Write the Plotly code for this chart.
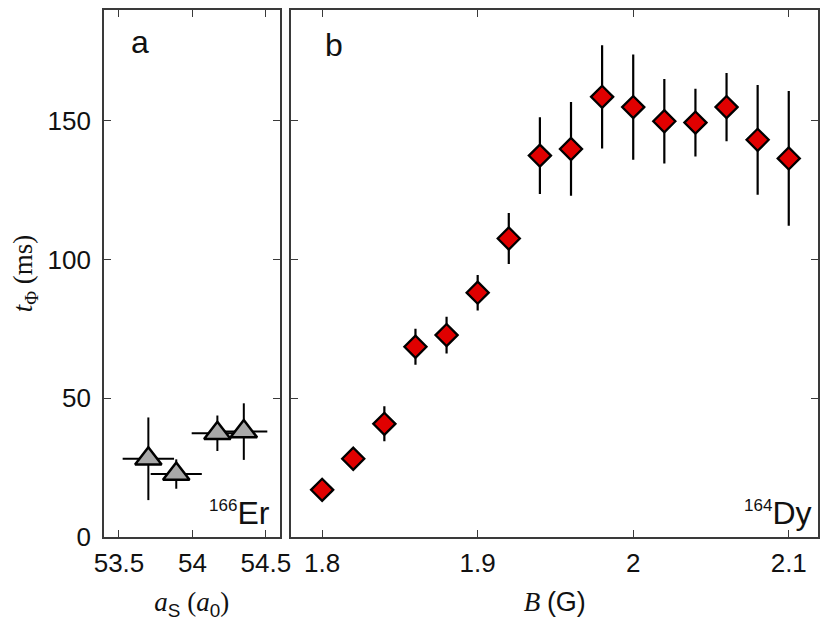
import plotly.graph_objects as go
from plotly.subplots import make_subplots

# panel a: 166Er
er_as = [53.70, 53.89, 54.17, 54.35]
er_as_err = [0.175, 0.174, 0.175, 0.16]
er_t = [28.2, 22.7, 37.4, 38.0]
er_t_err = [14.9, 5.3, 6.4, 10.2]

# panel b: 164Dy
dy_b = [1.80, 1.82, 1.84, 1.86, 1.88, 1.90, 1.92, 1.94, 1.96, 1.98, 2.00, 2.02, 2.04, 2.06, 2.08, 2.10]
dy_t = [17.0, 28.2, 40.8, 68.6, 72.8, 88.1, 107.6, 137.5, 139.9, 158.7, 155.0, 149.9, 149.4, 155.0, 143.2, 136.5]
dy_t_err = [2.0, 2.5, 6.3, 6.5, 6.6, 6.4, 9.2, 13.8, 16.9, 18.6, 19.0, 15.2, 12.2, 12.3, 19.8, 24.3]

er_ticks = [53.5, 54, 54.5]
dy_ticks = [1.8, 1.9, 2.0, 2.1]
t_ticks = [0, 50, 100, 150]

SANS = "Liberation Sans, Arial, sans-serif"
SERIF = "Liberation Serif, Times New Roman, serif"
FRAME = "#3a3a3a"
INK = "#111111"

# page body has an 8px margin, so the figure is 8px smaller each way
fig = make_subplots(rows=1, cols=2, horizontal_spacing=0.0168,
                    column_widths=[0.2458, 0.7374])

fig.add_trace(go.Scatter(
    x=er_as, y=er_t, mode="markers",
    marker=dict(symbol="triangle-up", size=23, color="#a9a9a9",
                line=dict(color="black", width=2.5)),
    error_x=dict(type="data", array=er_as_err, color="black", thickness=2, width=0),
    error_y=dict(type="data", array=er_t_err, color="black", thickness=2, width=0),
    showlegend=False,
), row=1, col=1)

fig.add_trace(go.Scatter(
    x=dy_b, y=dy_t, mode="markers",
    marker=dict(symbol="diamond", size=17, color="#e00000",
                line=dict(color="black", width=2.3)),
    error_y=dict(type="data", array=dy_t_err, color="black", thickness=2.2, width=0),
    showlegend=False,
), row=1, col=2)

axis_common = dict(
    showline=True, linecolor=FRAME, linewidth=1.8, mirror="allticks",
    ticks="inside", ticklen=7, tickwidth=1.4, tickcolor=FRAME,
    showgrid=False, zeroline=False,
    tickfont=dict(family=SANS, size=26, color=INK),
)
fig.update_xaxes(axis_common, ticklabelstandoff=2)
fig.update_yaxes(axis_common, ticklabelstandoff=6)

sans_sub = "<sub><span style='font-family:Liberation Sans'>{}</span></sub>"
fig.update_xaxes(range=[53.398, 54.593], tickvals=er_ticks, ticktext=["53.5", "54", "54.5"],
                 title=dict(text="<i>a</i>" + sans_sub.format("S") + " (<i>a</i>" + sans_sub.format("0") + ")",
                            font=dict(family=SERIF, size=27, color=INK), standoff=15),
                 row=1, col=1)
fig.update_xaxes(range=[1.7803, 2.1188], tickvals=dy_ticks, ticktext=["1.8", "1.9", "2", "2.1"],
                 title=dict(text="<i>B</i> <span style='font-family:Liberation Sans'>(G)</span>",
                            font=dict(family=SERIF, size=27, color=INK), standoff=15),
                 row=1, col=2)
fig.update_yaxes(range=[0, 190], tickvals=t_ticks,
                 title=dict(text="<i>t</i><sub>Φ</sub> (ms)",
                            font=dict(family=SERIF, size=27, color=INK), standoff=12),
                 row=1, col=1)
fig.update_yaxes(range=[0, 190], tickvals=t_ticks, showticklabels=False, row=1, col=2)

fig.add_annotation(text="a", xref="x domain", yref="y domain", x=0.205, y=0.94,
                   xanchor="center", yanchor="middle", showarrow=False,
                   font=dict(family=SANS, size=32, color=INK))
fig.add_annotation(text="b", xref="x2 domain", yref="y2 domain", x=0.081, y=0.934,
                   xanchor="center", yanchor="middle", showarrow=False,
                   font=dict(family=SANS, size=32, color=INK))

iso = "<sup><span style='font-size:17px'>{}</span></sup>{}"
fig.add_annotation(text=iso.format("166", "Er"), xref="x domain", yref="y domain", x=0.955, y=0.008,
                   xanchor="right", yanchor="bottom", showarrow=False,
                   font=dict(family=SANS, size=32, color=INK))
fig.add_annotation(text=iso.format("164", "Dy"), xref="x2 domain", yref="y2 domain", x=0.99, y=0.008,
                   xanchor="right", yanchor="bottom", showarrow=False,
                   font=dict(family=SANS, size=32, color=INK))

fig.update_layout(
    width=822, height=617,
    margin=dict(l=96, r=10, t=0, b=88),
    paper_bgcolor="white", plot_bgcolor="white",
)

fig.write_html("out.html")
